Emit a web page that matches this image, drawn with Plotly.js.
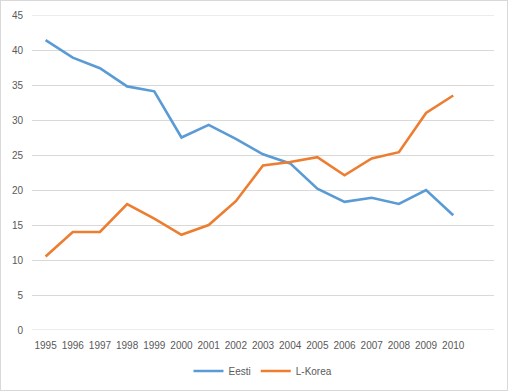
<!DOCTYPE html>
<html>
<head>
<meta charset="utf-8">
<script src="https://cdn.plot.ly/plotly-3.0.1.min.js"></script>
<style>
html,body{margin:0;padding:0;background:#fff;}
#chart{width:508px;height:391px;box-sizing:border-box;border:1px solid #d9d9d9;}
</style>
</head>
<body>
<div id="chart"></div>
<script>
var years = [1995,1996,1997,1998,1999,2000,2001,2002,2003,2004,2005,2006,2007,2008,2009,2010];
var eesti = [41.4,38.9,37.4,34.8,34.1,27.5,29.3,27.3,25.1,23.8,20.2,18.3,18.9,18.0,20.0,16.4];
var lkorea = [10.5,14.0,14.0,18.0,15.9,13.6,15.0,18.4,23.5,24.0,24.7,22.1,24.5,25.4,31.0,33.5];
var yTicks = [0,5,10,15,20,25,30,35,40,45];

var font = {family: '"Liberation Sans", Arial, sans-serif', size: 10, color: '#595959'};

var traces = [
  {x: years, y: eesti, name: 'Eesti', type: 'scatter', mode: 'lines',
   line: {color: '#5B9BD5', width: 2.6}},
  {x: years, y: lkorea, name: 'L-Korea', type: 'scatter', mode: 'lines',
   line: {color: '#ED7D31', width: 2.6}}
];

var yMin = yTicks[0], yMax = yTicks[yTicks.length - 1];
var edgeLines = [yMin, yMax].map(function (v) {
  return {type: 'line', xref: 'paper', yref: 'y', x0: 0, x1: 1, y0: v, y1: v,
          layer: 'below', line: {color: '#d9d9d9', width: 1}};
});

var layout = {
  width: 506, height: 389,
  margin: {l: 31, r: 13, t: 14, b: 60, autoexpand: false},
  paper_bgcolor: '#fff', plot_bgcolor: '#fff',
  font: font,
  showlegend: true,
  legend: {orientation: 'h', x: 0.5, xanchor: 'center', yref: 'container', y: 0.049, yanchor: 'middle',
           font: font},
  shapes: edgeLines,
  xaxis: {range: [1994.5, 2011.5], tickvals: years, ticktext: years.map(String),
          showgrid: false, zeroline: false, showline: false, ticks: '',
          ticklabelstandoff: 8, tickfont: font, fixedrange: true, automargin: false},
  yaxis: {range: [yMin, yMax], tickvals: yTicks, showgrid: true, gridcolor: '#d9d9d9',
          gridwidth: 1, zeroline: false, showline: false, ticks: '',
          ticklabelstandoff: 8, tickfont: font, fixedrange: true, automargin: false}
};

Plotly.newPlot('chart', traces, layout, {displayModeBar: false, staticPlot: true});
</script>
</body>
</html>
